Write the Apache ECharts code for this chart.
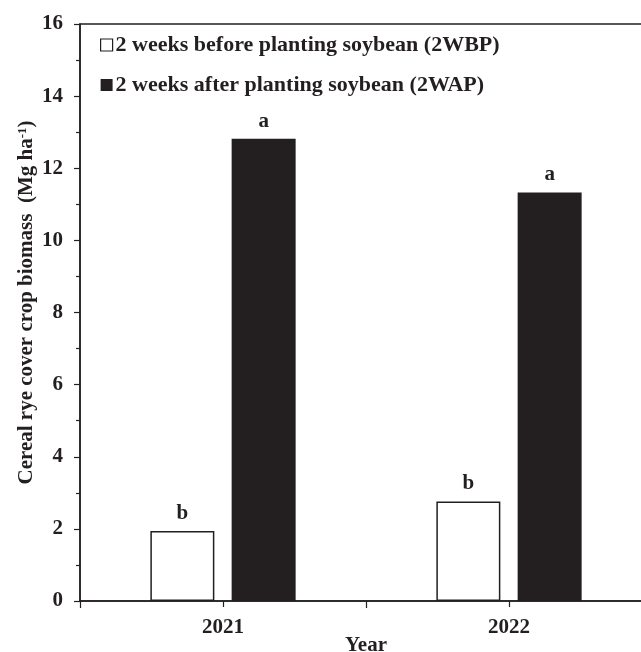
<!DOCTYPE html>
<html>
<head>
<meta charset="utf-8">
<script src="https://cdn.jsdelivr.net/npm/echarts@6/dist/echarts.min.js"></script>
<style>
html,body{margin:0;padding:0;background:#fff;}
#chart{width:641px;height:652px;}
</style>
</head>
<body>
<div id="chart"></div>
<script>
const years = ['2021', '2022'];
const seriesNames = ['2 weeks before planting soybean (2WBP)', '2 weeks after planting soybean (2WAP)'];
const before2WBP = [1.94, 2.76];
const after2WAP = [12.82, 11.33];
const lettersBefore = ['b', 'b'];
const lettersAfter = ['a', 'a'];
const yTicks = [0, 2, 4, 6, 8, 10, 12, 14, 16];

const ink = '#231f20';
const font = '"Liberation Serif", "Times New Roman", serif';

const chart = echarts.init(document.getElementById('chart'));
chart.setOption({
  animation: false,
  backgroundColor: '#fff',
  textStyle: { fontFamily: font, fontWeight: 'bold', color: ink },
  grid: {
    left: 80, top: 24, width: 572, height: 577,
    outerBoundsMode: 'none', containLabel: false,
    show: true, borderColor: ink, borderWidth: 1.5, backgroundColor: 'transparent'
  },
  legend: {
    orient: 'vertical',
    left: 100, top: 34,
    padding: 0,
    itemGap: 18,
    itemWidth: 12, itemHeight: 12,
    icon: 'rect',
    textStyle: { fontFamily: font, fontWeight: 'bold', fontSize: 22, color: ink, padding: [0, 0, 0, -2] },
    data: [
      { name: seriesNames[0], itemStyle: { color: '#fff', borderColor: ink, borderWidth: 1.2 } },
      { name: seriesNames[1], itemStyle: { color: ink, borderColor: ink, borderWidth: 0 } }
    ]
  },
  xAxis: [
    {
      type: 'category', data: years, position: 'bottom',
      name: 'Year', nameLocation: 'middle', nameGap: 34, nameMoveOverlap: false,
      nameTextStyle: { fontFamily: font, fontWeight: 'bold', fontSize: 21, color: ink },
      axisLine: { show: true, lineStyle: { color: ink, width: 1.5 } },
      axisTick: { show: true, alignWithLabel: true, length: 6, lineStyle: { color: ink, width: 1.2 } },
      axisLabel: { margin: 16, fontFamily: font, fontWeight: 'bold', fontSize: 21, color: ink },
      splitLine: { show: false }
    },
    {
      type: 'category', data: years, position: 'bottom',
      axisLine: { show: false },
      axisTick: { show: true, length: 7, lineStyle: { color: ink, width: 1.2 } },
      axisLabel: { show: false },
      splitLine: { show: false }
    }
  ],
  yAxis: {
    type: 'value', min: yTicks[0], max: yTicks[yTicks.length - 1], interval: 2,
    name: '{t|Cereal rye cover crop biomass  (Mg ha}{sup|-1}{t|)}',
    nameLocation: 'middle', nameGap: 43, nameRotate: 90, nameMoveOverlap: false,
    nameTextStyle: {
      fontFamily: font, fontWeight: 'bold', fontSize: 21, color: ink,
      padding: [0, 0, 0, 20],
      rich: {
        t: { fontFamily: font, fontWeight: 'bold', fontSize: 21, color: ink },
        sup: { fontFamily: font, fontWeight: 'bold', fontSize: 13, color: ink, verticalAlign: 'top', padding: [0, 0, 8, 0] }
      }
    },
    axisLine: { show: true, lineStyle: { color: ink, width: 1.5 } },
    axisTick: { show: true, inside: false, length: 6, lineStyle: { color: ink, width: 1.2 } },
    minorTick: { show: true, splitNumber: 2, length: 4, lineStyle: { color: ink, width: 1.2 } },
    axisLabel: { margin: 17, fontFamily: font, fontWeight: 'bold', fontSize: 21, color: ink },
    splitLine: { show: false }
  },
  series: [
    {
      name: seriesNames[0], type: 'bar', xAxisIndex: 0, data: before2WBP,
      barWidth: 64, barGap: '27%',
      itemStyle: { color: '#fff', borderColor: ink, borderWidth: 1.5 },
      label: {
        show: true, position: 'top', distance: 7,
        formatter: p => lettersBefore[p.dataIndex],
        fontFamily: font, fontWeight: 'bold', fontSize: 21, color: ink
      }
    },
    {
      name: seriesNames[1], type: 'bar', xAxisIndex: 0, data: after2WAP,
      barWidth: 64, barGap: '27%',
      itemStyle: { color: ink },
      label: {
        show: true, position: 'top', distance: 7,
        formatter: p => lettersAfter[p.dataIndex],
        fontFamily: font, fontWeight: 'bold', fontSize: 21, color: ink
      }
    }
  ]
});
</script>
</body>
</html>
